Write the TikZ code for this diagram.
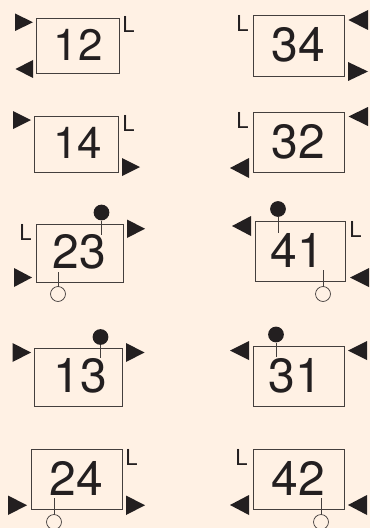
\documentclass[tikz,border=0pt]{standalone}
\usepackage{fontspec}
\setmainfont{TeX Gyre Heros}
\definecolor{bg}{HTML}{FFF1E4}
\definecolor{ink}{HTML}{231F20}
\tikzset{
  box/.style={draw=ink!85!bg,line width=0.68pt,fill=none},
  digits/.style={text=ink,inner sep=0pt,anchor=base},
  elabel/.style={text=ink,inner sep=0pt,anchor=base west,font=\fontsize{16.5}{18}\selectfont},
  tri/.style={fill=ink,draw=none},
  stem/.style={draw=ink!85!bg,line width=0.7pt},
  fdot/.style={circle,fill=ink,draw=none,minimum size=11.8pt,inner sep=0pt},
  odot/.style={circle,fill=bg,draw=ink!90!bg,line width=0.5pt,minimum size=11.2pt,inner sep=0pt},
}
% name, x1,y1,x2,y2, font pt, text centre x, baseline y
\newcommand{\cellbox}[8]{%
  \draw[box] (#2,#3) rectangle (#4,#5);
  \node[digits,font=\fontsize{#6}{#6}\selectfont] (n#1) at (#7,#8) {#1};
}
% right / left pointing triangles: x1,x2,y1,y2
\newcommand{\rtri}[4]{\fill[tri] (#1,#3) -- (#2,{(#3+#4)/2}) -- (#1,#4) -- cycle;}
\newcommand{\ltri}[4]{\fill[tri] (#2,#3) -- (#1,{(#3+#4)/2}) -- (#2,#4) -- cycle;}
\newcommand{\elL}[3]{\node[elabel] (#1) at (#2,#3) {L};}
% name, x, circle y, stem end y
\newcommand{\fpin}[4]{\coordinate (#1e) at (#2,#4); \node[fdot] (#1) at (#2,#3) {}; \draw[stem] (#1) -- (#1e);}
\newcommand{\opin}[4]{\coordinate (#1e) at (#2,#4); \draw[stem] (#2,#3) -- (#1e); \node[odot] (#1) at (#2,#3) {};}
\begin{document}
\begin{tikzpicture}[x=0.75pt,y=-0.75pt]
\path[fill=bg] (0,0) rectangle (370,528);
\useasboundingbox (0,0) rectangle (370,528);
\cellbox{12}{36}{18}{119}{73}{33}{78}{60.5}
\cellbox{14}{34.5}{116}{118.5}{172}{33}{77.5}{158}
\cellbox{34}{253}{15.5}{344}{76}{36}{298}{61.5}
\cellbox{32}{253}{112}{344}{172.5}{36}{298}{158}
\cellbox{23}{36}{224}{123}{282}{36}{79}{268.5}
\cellbox{13}{34.5}{348}{122}{406}{36}{80}{392.5}
\cellbox{41}{255}{221.5}{345.5}{281.5}{36}{297}{267}
\cellbox{31}{253}{346}{344}{406.5}{36}{295.5}{392}
\cellbox{24}{31}{449}{122}{509.5}{36}{76}{495}
\cellbox{42}{253}{449}{344}{509.5}{36}{298}{495}
\rtri{15}{33}{13.5}{31}
\ltri{15.5}{33}{60}{78}
\rtri{13}{31}{111}{129}
\rtri{122}{140}{158}{176}
\ltri{348.5}{368}{10}{30}
\rtri{348}{368}{62}{81}
\ltri{348.5}{368}{107}{126}
\ltri{230}{249}{158}{178}
\rtri{127}{145}{219.5}{238}
\rtri{14}{32}{268}{287}
\rtri{12.5}{31}{343}{362}
\rtri{126}{144.5}{343}{362}
\ltri{232}{251}{216}{236}
\ltri{350}{369}{268}{287}
\ltri{230}{249}{341}{360}
\ltri{348}{367}{341}{360}
\rtri{8}{27}{495.5}{515}
\rtri{126}{145}{495.5}{515}
\ltri{230}{249}{495}{515}
\ltri{348}{367}{495}{515}
\elL{l12}{122}{33}
\elL{l14}{122}{131}
\elL{l34}{236}{32}
\elL{l32}{236}{128}
\elL{l23}{19}{240}
\elL{l41}{349}{237}
\elL{l24}{125}{465}
\elL{l42}{235}{465}
\fpin{p23}{101.5}{212.5}{235}
\opin{q23}{58}{294}{272}
\fpin{p13}{100.5}{337}{358}
\fpin{p41}{278}{209}{233}
\opin{q41}{323}{294}{270}
\fpin{p31}{276}{334.5}{357}
\opin{q24}{54}{522}{498}
\opin{q42}{321}{522}{498}
\end{tikzpicture}
\end{document}
